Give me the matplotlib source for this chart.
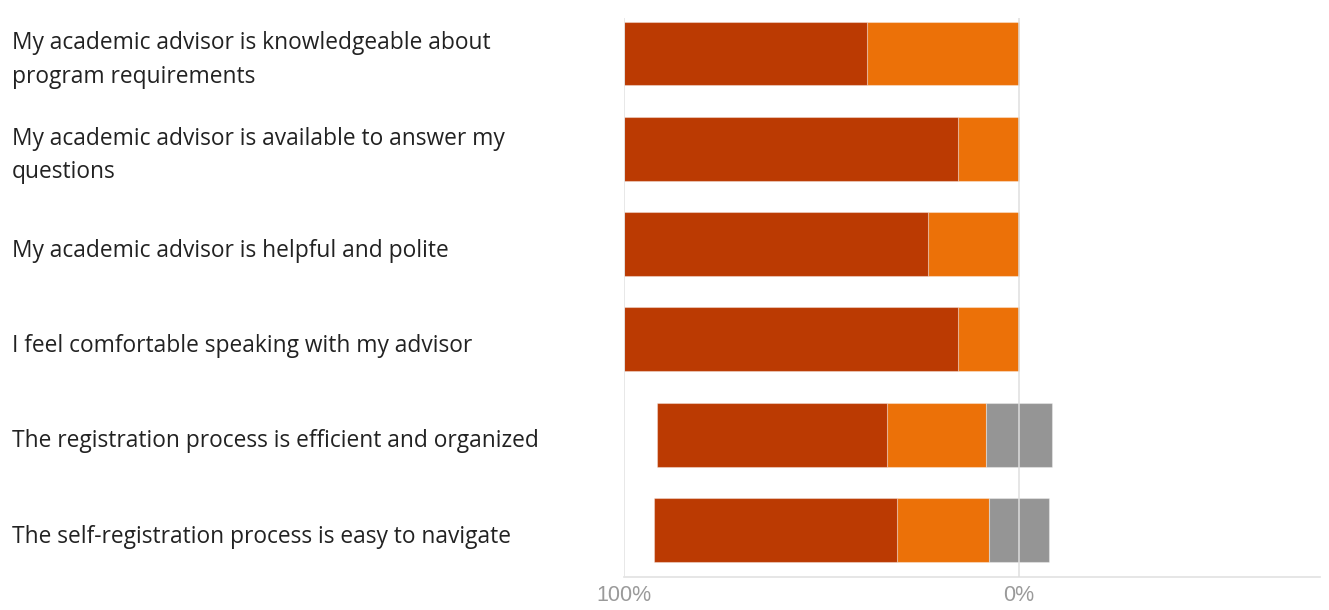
import matplotlib.pyplot as plt

questions = [
    "My academic advisor is knowledgeable about\nprogram requirements",
    "My academic advisor is available to answer my\nquestions",
    "My academic advisor is helpful and polite",
    "I feel comfortable speaking with my advisor",
    "The registration process is efficient and organized",
    "The self-registration process is easy to navigate",
]
strongly_agree = [61.5, 84.6, 76.9, 84.6, 58.3, 61.5]
agree = [38.5, 15.4, 23.1, 15.4, 25.0, 23.1]
neutral = [0, 0, 0, 0, 16.7, 15.4]

tick_pos = [-100, 0]
tick_labels = ["100%", "0%"]

c_sa = "#bb3a02"
c_ag = "#ec7108"
c_ne = "#959595"

fig = plt.figure(figsize=(13.29, 6.10), dpi=100)
ax = fig.add_axes([624 / 1329, 1 - 577 / 610, (1320 - 624) / 1329, (577 - 18) / 610])

y = list(range(len(questions)))
h = 0.67
edge = (1, 1, 1, 0.35)

for i in y:
    half = neutral[i] / 2
    ax.barh(i, agree[i], left=-half - agree[i], height=h, color=c_ag,
            edgecolor=edge, linewidth=0.8, zorder=2)
    ax.barh(i, strongly_agree[i], left=-half - agree[i] - strongly_agree[i],
            height=h, color=c_sa, edgecolor=edge, linewidth=0.8, zorder=2)
    if neutral[i] > 0:
        ax.barh(i, neutral[i], left=-half, height=h, color=c_ne,
                edgecolor=edge, linewidth=0.8, zorder=2)

ax.set_xlim(-100, 76.2)
ax.set_ylim(5 + 47 / 95.4, -35.5 / 95.4)

# gridlines on top of the bars
ax.axvline(-100, color="#e4e4e4", lw=1.2, zorder=3)
ax.axvline(0, color="#dedede", lw=1.2, zorder=3, alpha=0.9)

for s in ["top", "right", "left"]:
    ax.spines[s].set_visible(False)
ax.spines["bottom"].set_color("#e2e2e2")
ax.spines["bottom"].set_linewidth(1.2)

ax.set_yticks([])
ax.set_xticks(tick_pos)
ax.set_xticklabels(tick_labels, fontsize=15.5, color="#9a9a9a",
                   family="Liberation Sans")
ax.tick_params(axis="x", length=0, pad=6)

# question labels, left aligned at the figure edge
trans = ax.get_yaxis_transform()
x_lab = -(624 - 12) / 696
for i, q in enumerate(questions):
    ax.text(x_lab, i + 0.07, q, transform=trans, ha="left", va="center",
            fontsize=16.4, color="#222222", family="Open Sans",
            linespacing=1.52)

fig.savefig("out.png", dpi=100)
